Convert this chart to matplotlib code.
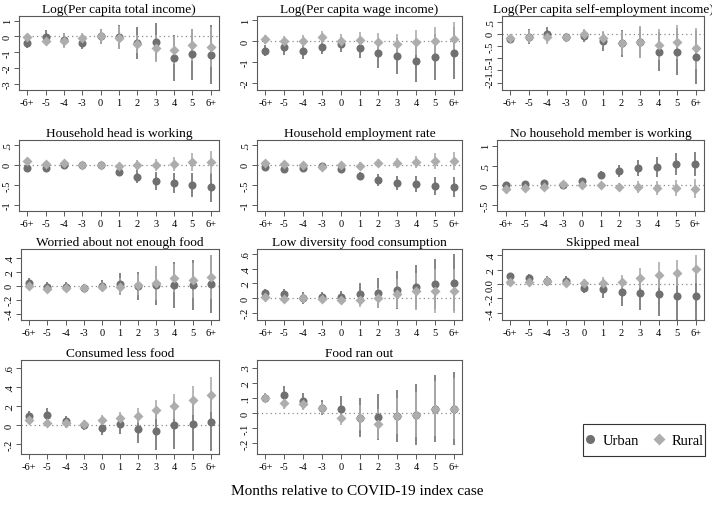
import matplotlib
matplotlib.use('Agg')
import matplotlib.pyplot as plt
from matplotlib.lines import Line2D
from matplotlib.patches import Rectangle

plt.rcParams['font.family'] = ['Liberation Serif', 'DejaVu Serif']

periods = ['-6+', '-5', '-4', '-3', '0', '1', '2', '3', '4', '5', '6+']

titles = ['Log(Per capita total income)', 'Log(Per capita wage income)',
          'Log(Per capita self-employment income)', 'Household head is working',
          'Household employment rate', 'No household member is working',
          'Worried about not enough food', 'Low diversity food consumption',
          'Skipped meal', 'Consumed less food', 'Food ran out']

# point estimates and 95% CI half-widths
p1_urban = [-0.43, -0.05, -0.25, -0.40, 0.00, -0.05, -0.40, -0.35, -1.35, -1.13, -1.15]
p1_urban_hw = [0.30, 0.48, 0.45, 0.40, 0.45, 0.75, 1.00, 1.20, 1.45, 1.62, 1.85]
p1_rural = [-0.02, -0.26, -0.26, -0.07, 0.00, -0.07, -0.48, -0.74, -0.85, -0.54, -0.67]
p1_rural_hw = [0.20, 0.30, 0.48, 0.30, 0.45, 0.75, 0.60, 0.85, 0.90, 1.00, 1.30]

p2_urban = [-0.46, -0.30, -0.46, -0.31, -0.16, -0.33, -0.59, -0.72, -0.97, -0.75, -0.56]
p2_urban_hw = [0.25, 0.35, 0.40, 0.30, 0.35, 0.50, 0.70, 0.85, 1.00, 1.10, 1.25]
p2_rural = [0.08, 0.00, -0.02, 0.18, 0.02, 0.07, -0.03, -0.16, -0.05, -0.02, 0.10]
p2_rural_hw = [0.20, 0.25, 0.30, 0.30, 0.30, 0.35, 0.40, 0.50, 0.60, 0.70, 0.80]

p3_urban = [-0.20, -0.12, 0.00, -0.15, -0.10, -0.31, -0.38, -0.35, -0.73, -0.73, -0.95]
p3_urban_hw = [0.15, 0.30, 0.28, 0.20, 0.25, 0.40, 0.55, 0.65, 0.80, 0.95, 1.10]
p3_rural = [-0.19, -0.11, -0.15, -0.15, 0.01, -0.19, -0.38, -0.34, -0.44, -0.34, -0.60]
p3_rural_hw = [0.15, 0.25, 0.25, 0.20, 0.20, 0.30, 0.50, 0.65, 0.65, 0.70, 0.85]

p4_urban = [-0.08, -0.08, -0.01, 0.00, 0.00, -0.17, -0.29, -0.41, -0.45, -0.50, -0.56]
p4_urban_hw = [0.06, 0.06, 0.05, 0.05, 0.03, 0.10, 0.17, 0.22, 0.25, 0.30, 0.36]
p4_rural = [0.09, 0.03, 0.05, -0.01, 0.00, -0.04, 0.00, 0.00, 0.02, 0.07, 0.06]
p4_rural_hw = [0.05, 0.05, 0.05, 0.04, 0.03, 0.08, 0.12, 0.15, 0.18, 0.22, 0.28]

p5_urban = [-0.06, -0.10, -0.09, -0.03, -0.10, -0.27, -0.38, -0.45, -0.47, -0.53, -0.54]
p5_urban_hw = [0.05, 0.05, 0.05, 0.05, 0.06, 0.10, 0.14, 0.17, 0.20, 0.22, 0.25]
p5_rural = [0.05, 0.02, 0.00, -0.05, -0.01, -0.02, 0.05, 0.05, 0.07, 0.09, 0.10]
p5_rural_hw = [0.05, 0.05, 0.05, 0.05, 0.06, 0.08, 0.10, 0.12, 0.16, 0.20, 0.22]

p6_urban = [0.01, 0.04, 0.05, 0.00, 0.10, 0.27, 0.37, 0.44, 0.47, 0.54, 0.55]
p6_urban_hw = [0.05, 0.05, 0.05, 0.05, 0.05, 0.10, 0.15, 0.20, 0.25, 0.27, 0.30]
p6_rural = [-0.10, -0.06, -0.03, 0.04, 0.00, 0.01, -0.05, -0.05, -0.06, -0.07, -0.08]
p6_rural_hw = [0.05, 0.05, 0.05, 0.05, 0.05, 0.07, 0.10, 0.15, 0.18, 0.20, 0.23]

p7_urban = [0.04, -0.02, -0.02, -0.03, 0.00, 0.03, 0.00, 0.01, 0.01, 0.01, 0.03]
p7_urban_hw = [0.07, 0.07, 0.07, 0.06, 0.08, 0.16, 0.20, 0.28, 0.33, 0.36, 0.42]
p7_rural = [0.00, -0.04, -0.03, -0.03, -0.01, -0.01, 0.02, 0.04, 0.11, 0.08, 0.13]
p7_rural_hw = [0.05, 0.05, 0.05, 0.05, 0.07, 0.12, 0.15, 0.24, 0.20, 0.25, 0.32]

p8_urban = [0.07, 0.05, 0.00, 0.02, 0.02, 0.05, 0.07, 0.11, 0.15, 0.19, 0.21]
p8_urban_hw = [0.05, 0.08, 0.08, 0.06, 0.08, 0.15, 0.20, 0.26, 0.30, 0.34, 0.39]
p8_rural = [0.02, -0.01, 0.00, -0.01, -0.02, -0.02, 0.00, 0.06, 0.09, 0.09, 0.10]
p8_rural_hw = [0.04, 0.05, 0.05, 0.05, 0.06, 0.10, 0.14, 0.20, 0.25, 0.30, 0.30]

p9_urban = [0.11, 0.085, 0.04, 0.05, -0.05, -0.065, -0.11, -0.12, -0.14, -0.16, -0.16]
p9_urban_hw = [0.05, 0.06, 0.07, 0.06, 0.08, 0.13, 0.20, 0.24, 0.30, 0.35, 0.42]
p9_rural = [0.03, 0.03, 0.04, 0.02, 0.01, 0.02, 0.03, 0.09, 0.13, 0.16, 0.21]
p9_rural_hw = [0.04, 0.05, 0.06, 0.05, 0.06, 0.08, 0.10, 0.14, 0.18, 0.18, 0.19]

p10_urban = [0.10, 0.105, 0.04, 0.00, -0.03, 0.01, -0.04, -0.06, 0.00, 0.01, 0.03]
p10_urban_hw = [0.05, 0.07, 0.06, 0.05, 0.07, 0.10, 0.15, 0.20, 0.25, 0.28, 0.30]
p10_rural = [0.05, 0.02, 0.02, 0.01, 0.055, 0.08, 0.10, 0.16, 0.20, 0.26, 0.32]
p10_rural_hw = [0.04, 0.04, 0.05, 0.04, 0.05, 0.06, 0.08, 0.10, 0.13, 0.15, 0.18]

p11_urban = [0.10, 0.12, 0.08, 0.035, 0.03, -0.03, -0.025, -0.02, -0.01, 0.03, 0.03]
p11_urban_hw = [0.03, 0.06, 0.05, 0.05, 0.08, 0.13, 0.15, 0.17, 0.20, 0.22, 0.24]
p11_rural = [0.10, 0.065, 0.06, 0.035, -0.03, -0.03, -0.07, -0.02, -0.01, 0.03, 0.03]
p11_rural_hw = [0.03, 0.04, 0.04, 0.04, 0.05, 0.08, 0.10, 0.12, 0.15, 0.18, 0.20]

urban_all = [p1_urban, p2_urban, p3_urban, p4_urban, p5_urban, p6_urban,
             p7_urban, p8_urban, p9_urban, p10_urban, p11_urban]
urban_hw_all = [p1_urban_hw, p2_urban_hw, p3_urban_hw, p4_urban_hw, p5_urban_hw, p6_urban_hw,
                p7_urban_hw, p8_urban_hw, p9_urban_hw, p10_urban_hw, p11_urban_hw]
rural_all = [p1_rural, p2_rural, p3_rural, p4_rural, p5_rural, p6_rural,
             p7_rural, p8_rural, p9_rural, p10_rural, p11_rural]
rural_hw_all = [p1_rural_hw, p2_rural_hw, p3_rural_hw, p4_rural_hw, p5_rural_hw, p6_rural_hw,
                p7_rural_hw, p8_rural_hw, p9_rural_hw, p10_rural_hw, p11_rural_hw]

ytick_vals = [[-3, -2, -1, 0, 1], [-2, -1, 0, 1], [-2, -1.5, -1, -0.5, 0, 0.5],
              [-1, -0.5, 0, 0.5], [-1, -0.5, 0, 0.5], [-0.5, 0, 0.5, 1],
              [-0.4, -0.2, 0, 0.2, 0.4], [-0.2, 0, 0.2, 0.4, 0.6], [-0.4, -0.2, 0, 0.2, 0.4],
              [-0.2, 0, 0.2, 0.4, 0.6], [-0.2, -0.1, 0, 0.1, 0.2, 0.3]]
ytick_labels = [['-3', '-2', '-1', '0', '1'], ['-2', '-1', '0', '1'],
                ['-2', '-1.5', '-1', '-.5', '0', '.5'],
                ['-1', '-.5', '0', '.5'], ['-1', '-.5', '0', '.5'], ['-.5', '0', '.5', '1'],
                ['-.4', '-.2', '0', '.2', '.4'], ['-.2', '0', '.2', '.4', '.6'],
                ['-.4', '-.2', '0.0', '.2', '.4'],
                ['-.2', '0', '.2', '.4', '.6'], ['-.2', '-.1', '0', '.1', '.2', '.3']]
ylims = [(-3.4, 1.3), (-2.35, 1.2), (-2.3, 0.73), (-1.15, 0.62), (-1.15, 0.62), (-0.65, 1.15),
         (-0.49, 0.53), (-0.3, 0.67), (-0.5, 0.49), (-0.3, 0.68), (-0.27, 0.35)]

# frame boxes in pixels: left, right, top, bottom
col_l = [19, 257, 502]
col_r = [219, 462, 704]
row_t = [17, 141, 250, 361]
row_b = [91, 212, 321, 455]

W, H = 712, 510
fig = plt.figure(figsize=(W / 100, H / 100), dpi=100)

URB = '#707070'
RUR = '#adadad'
FRAME = '#5a5a5a'

x = list(range(len(periods)))
for i in range(11):
    r, c = divmod(i, 3)
    left = col_l[c]
    if i == 5:
        left = 497
    if c == 0 and r >= 2:
        left = 21
    rect = [left / W, 1 - row_b[r] / H, (col_r[c] - left) / W, (row_b[r] - row_t[r]) / H]
    ax = fig.add_axes(rect)
    ax.axhline(0, color='#8a8a8a', lw=0.9, ls=(0, (1, 2.5)), zorder=1)
    u, uh = urban_all[i], urban_hw_all[i]
    rv, rh = rural_all[i], rural_hw_all[i]
    ax.vlines(x, [a - b for a, b in zip(u, uh)], [a + b for a, b in zip(u, uh)],
              color=URB, lw=1.2, zorder=2)
    ax.vlines(x, [a - b for a, b in zip(rv, rh)], [a + b for a, b in zip(rv, rh)],
              color=RUR, lw=1.2, zorder=3)
    ax.plot(x, u, 'o', color=URB, ms=5.8, mec='none', zorder=4)
    ax.plot(x, rv, 'D', color=RUR, ms=5.6, mec='none', zorder=5)
    ax.set_xlim(-0.45, 10.45)
    ax.set_ylim(*ylims[i])
    ax.set_xticks(x)
    ax.set_xticklabels(periods, fontsize=7.5)
    ax.set_yticks(ytick_vals[i])
    ax.set_yticklabels(ytick_labels[i], fontsize=7.5, rotation=90, va='center')
    ax.tick_params(length=3.5, width=0.7, color=FRAME, pad=2)
    ax.tick_params(axis='y', pad=1.5)
    for s in ax.spines.values():
        s.set_color(FRAME)
        s.set_linewidth(0.8)
    ax.set_title(titles[i], fontsize=9.6, pad=3)

fig.text(357 / W, 1 - 492 / H, 'Months relative to COVID-19 index case',
         ha='center', va='center', fontsize=11)

# legend box
fig.patches.append(Rectangle((583 / W, 1 - 457 / H), (705 - 583) / W, (457 - 425) / H,
                             transform=fig.transFigure, fill=False,
                             edgecolor='#333333', linewidth=0.8))
handles = [Line2D([], [], marker='o', ls='none', color=URB, ms=6.5, mec='none'),
           Line2D([], [], marker='D', ls='none', color=RUR, ms=6.2, mec='none')]
fig.legend(handles, ['Urban', 'Rural'], loc='center',
           bbox_to_anchor=(644 / W, 1 - 441 / H), ncol=2, frameon=False,
           fontsize=10.5, handletextpad=0.45, columnspacing=1.0,
           borderpad=0.0, handlelength=0.8, borderaxespad=0)

fig.savefig('out.png', dpi=100, facecolor='white')
